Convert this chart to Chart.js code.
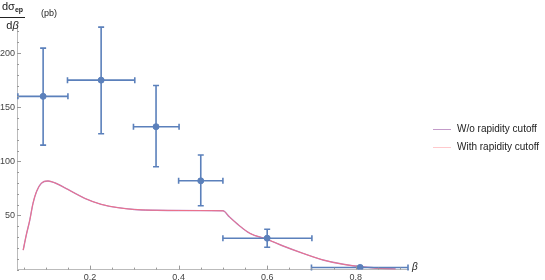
<!DOCTYPE html>
<html>
<head>
<meta charset="utf-8">
<script src="https://cdn.jsdelivr.net/npm/chart.js@4"></script>
<style>
  body { margin: 0; background: #fff; }
  .wrap { position: relative; width: 545px; height: 280px; font-family: "Liberation Sans", Arial, sans-serif; }
  .ylab { position: absolute; left: 0; top: 0; color: #222; font-size: 11px; }
  .frac { display: inline-block; text-align: center; vertical-align: middle; }
  .frac .num { display: block; border-bottom: 1px solid #222; padding: 0 2px 1px; line-height: 13px; }
  .frac .den { display: block; line-height: 12px; padding-top: 1px; }
  .frac sub { font-size: 7px; font-weight: bold; vertical-align: -2px; }
  .unit { position: absolute; left: 41px; top: 8px; font-size: 9px; color: #222; }
  .blab { position: absolute; left: 412px; top: 261px; font-size: 10px; font-style: italic; color: #222; }
  .legend { position: absolute; left: 433px; top: 122px; font-size: 10px; color: #222; }
  .legend div { height: 18px; line-height: 14px; white-space: nowrap; }
  .legend span.sw { display: inline-block; width: 18px; height: 0; border-top: 1px solid; vertical-align: middle; margin-right: 6px; }
</style>
</head>
<body>
<div class="wrap">
  <canvas id="plot" width="545" height="280"></canvas>
  <div class="ylab"><span class="frac"><span class="num">dσ<sub>ep</sub></span><span class="den">d<i>β</i></span></span></div>
  <div class="unit">(pb)</div>
  <div class="blab">β</div>
  <div class="legend">
    <div><span class="sw" style="border-color:#c39bc9"></span>W/o rapidity cutoff</div>
    <div><span class="sw" style="border-color:#ffc9cc"></span>With rapidity cutoff</div>
  </div>
</div>
<script>
// measured points with error bars
const binCenter = [0.094, 0.225, 0.349, 0.45, 0.6, 0.81];
const binLo = [0.037, 0.149, 0.298, 0.4, 0.5, 0.70];
const binHi = [0.150, 0.301, 0.401, 0.5, 0.701, 0.918];
const sigma = [160, 175, 132, 82, 29, 2];
const sigmaLo = [115, 125.5, 95, 59, 20.6, 2];
const sigmaHi = [204.6, 224, 170, 105.8, 37.2, 2];

// theory curves
const betaGrid = [0.049, 0.056, 0.064, 0.071, 0.079, 0.09, 0.105, 0.12, 0.15, 0.188, 0.225, 0.263, 0.3, 0.35, 0.4, 0.45, 0.5, 0.515, 0.531, 0.561, 0.6, 0.636, 0.681, 0.726, 0.772, 0.82, 0.86, 0.89];
const woCutoff = [18, 32, 46, 61, 72, 79.7, 81.8, 80.2, 74, 65.8, 60.3, 57.2, 55.5, 54.8, 54.6, 54.5, 54.3, 48.5, 42.7, 33.5, 28, 21.8, 15, 8.9, 4.9, 2.4, 1.2, 0.6];
const withCutoff = [18, 32, 46, 61, 72, 79.7, 81.8, 80.2, 74, 65.8, 60.3, 57.2, 55.5, 54.8, 54.6, 54.5, 54.3, 48.5, 42.7, 33.5, 28, 21.8, 15, 8.9, 4.9, 2.2, 0.9, 0.4];

// tick labels
const xLabels = [0.2, 0.4, 0.6, 0.8];
const yLabels = [50, 100, 150, 200];

const blue = '#5b80bb';

function pts(xs, ys) {
  return xs.map((x, i) => ({ x: x, y: ys[i] }));
}

function isLabel(list, v) {
  return list.some(l => Math.abs(l - v) < 1e-6);
}

// error bars + inward tick marks
const extras = {
  id: 'extras',
  afterDatasetsDraw(chart) {
    const ctx = chart.ctx;
    const xs = chart.scales.x, ys = chart.scales.y;
    ctx.save();
    ctx.strokeStyle = blue;
    ctx.lineWidth = 1.6;
    const cap = 3;
    binCenter.forEach((c, i) => {
      const px = xs.getPixelForValue(c), py = ys.getPixelForValue(sigma[i]);
      const x0 = xs.getPixelForValue(binLo[i]), x1 = xs.getPixelForValue(binHi[i]);
      const y0 = ys.getPixelForValue(sigmaLo[i]), y1 = ys.getPixelForValue(sigmaHi[i]);
      ctx.beginPath();
      ctx.moveTo(x0, py); ctx.lineTo(x1, py);
      ctx.moveTo(x0, py - cap); ctx.lineTo(x0, py + cap);
      ctx.moveTo(x1, py - cap); ctx.lineTo(x1, py + cap);
      if (y1 - y0 !== 0) {
        ctx.moveTo(px, y0); ctx.lineTo(px, y1);
        ctx.moveTo(px - cap, y0); ctx.lineTo(px + cap, y0);
        ctx.moveTo(px - cap, y1); ctx.lineTo(px + cap, y1);
      }
      ctx.stroke();
    });
    // ticks
    ctx.strokeStyle = '#999';
    ctx.lineWidth = 1;
    const area = chart.chartArea;
    ctx.beginPath();
    xs.ticks.forEach(t => {
      const p = Math.round(xs.getPixelForValue(t.value)) + 0.5;
      const len = isLabel(xLabels, t.value) ? 4 : 2;
      ctx.moveTo(p, area.bottom); ctx.lineTo(p, area.bottom - len);
    });
    ys.ticks.forEach(t => {
      const p = Math.round(ys.getPixelForValue(t.value)) + 0.5;
      const len = isLabel(yLabels, t.value) ? 4 : 2;
      ctx.moveTo(area.left, p); ctx.lineTo(area.left + len, p);
    });
    ctx.stroke();
    ctx.restore();
  }
};

new Chart(document.getElementById('plot'), {
  type: 'scatter',
  data: {
    datasets: [
      {
        label: 'data',
        data: pts(binCenter, sigma),
        backgroundColor: blue,
        borderColor: blue,
        pointRadius: 3,
        order: 1
      },
      {
        type: 'line',
        label: 'With rapidity cutoff',
        data: pts(betaGrid, withCutoff),
        borderColor: '#ee7088',
        borderWidth: 1,
        pointRadius: 0,
        cubicInterpolationMode: 'monotone',
        order: 2
      },
      {
        type: 'line',
        label: 'W/o rapidity cutoff',
        data: pts(betaGrid, woCutoff),
        borderColor: '#b68ccb',
        borderWidth: 1.4,
        pointRadius: 0,
        cubicInterpolationMode: 'monotone',
        order: 3
      }
    ]
  },
  options: {
    responsive: false,
    animation: false,
    layout: { padding: { top: 26, right: 137, left: 0, bottom: 0 } },
    plugins: { legend: { display: false }, tooltip: { enabled: false } },
    scales: {
      x: {
        type: 'linear',
        min: 0.035,
        max: 0.918,
        afterFit: s => { s.height = 10.4; },
        grid: { display: false, drawTicks: false },
        border: { display: true, color: '#bbb' },
        ticks: {
          stepSize: 0.05,
          includeBounds: false,
          autoSkip: false,
          maxRotation: 0,
          padding: 3,
          color: '#444',
          font: { family: 'Liberation Sans', size: 9 },
          callback: v => isLabel(xLabels, v) ? v.toFixed(1) : ''
        }
      },
      y: {
        min: 0,
        max: 225,
        afterFit: s => { s.width = 17; },
        grid: { display: false, drawTicks: false },
        border: { display: true, color: '#bbb' },
        ticks: {
          stepSize: 10,
          includeBounds: false,
          autoSkip: false,
          padding: 2,
          color: '#444',
          font: { family: 'Liberation Sans', size: 9 },
          callback: v => isLabel(yLabels, v) ? String(v) : ''
        }
      }
    }
  },
  plugins: [extras]
});
</script>
</body>
</html>
